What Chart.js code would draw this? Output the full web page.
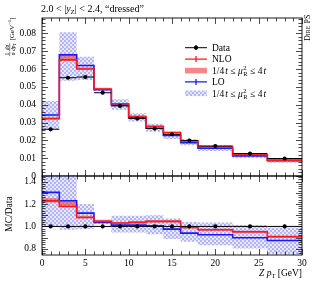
<!DOCTYPE html>
<html>
<head>
<meta charset="utf-8">
<script src="https://cdn.jsdelivr.net/npm/chart.js@4.4.1/dist/chart.umd.min.js"></script>
<style>
    body { margin: 0; background: #fff; }
    #wrap { position: relative; width: 313px; height: 281px; }
    canvas { position: absolute; left: 0; top: 0; }
</style>
</head>
<body>
<div id="wrap">
    <canvas id="main" width="313" height="281"></canvas>
    <canvas id="ratio" width="313" height="281"></canvas>
</div>
<script>
// Bin edges in Z pT [GeV]
const binEdges = [0, 2, 4, 6, 8, 10, 12, 14, 16, 18, 22, 26, 30];

// Top panel: 1/sigma dsigma/dpT
const dataVals = [0.0262, 0.0551, 0.0555, 0.0467, 0.0393, 0.0322, 0.0266, 0.0234, 0.0199, 0.0168, 0.0126, 0.0098];
const nloVals  = [0.0322, 0.0651, 0.0600, 0.0488, 0.0405, 0.0334, 0.0278, 0.0244, 0.0197, 0.0163, 0.0120, 0.0089];
const nloLow   = [0.0318, 0.0647, 0.0596, 0.0482, 0.0401, 0.0330, 0.0275, 0.0241, 0.0195, 0.0161, 0.0118, 0.0088];
const nloHigh  = [0.0328, 0.0675, 0.0608, 0.0495, 0.0409, 0.0338, 0.0281, 0.0247, 0.0200, 0.0165, 0.0122, 0.0090];
const loVals   = [0.0342, 0.0679, 0.0620, 0.0484, 0.0398, 0.0326, 0.0268, 0.0228, 0.0187, 0.0156, 0.0113, 0.0086];
const loLow    = [0.0262, 0.0534, 0.0538, 0.0477, 0.0372, 0.0305, 0.0248, 0.0208, 0.0172, 0.0140, 0.0101, 0.0074];
const loHigh   = [0.0421, 0.0806, 0.0669, 0.0491, 0.0430, 0.0352, 0.0293, 0.0250, 0.0207, 0.0173, 0.0128, 0.0097];

// Bottom panel: MC / Data
const nloRatio     = [1.228, 1.178, 1.080, 1.045, 1.030, 1.036, 1.045, 1.045, 0.990, 0.970, 0.952, 0.908];
const nloRatioLow  = [1.214, 1.174, 1.074, 1.032, 1.021, 1.027, 1.036, 1.036, 0.981, 0.961, 0.942, 0.898];
const nloRatioHigh = [1.252, 1.224, 1.096, 1.060, 1.040, 1.046, 1.055, 1.055, 1.000, 0.980, 0.962, 0.918];
const loRatio      = [1.304, 1.229, 1.119, 1.036, 1.012, 1.012, 1.006, 0.976, 0.940, 0.926, 0.899, 0.875];
const loRatioLow   = [1.000, 0.970, 0.976, 1.022, 0.946, 0.946, 0.930, 0.887, 0.863, 0.833, 0.804, 0.753];
const loRatioHigh  = [1.610, 1.460, 1.200, 1.050, 1.095, 1.095, 1.100, 1.070, 1.040, 1.036, 1.012, 0.991];

const SERIF = '"Liberation Serif", "DejaVu Serif", serif';
const RED = '#ff1a1a';
const BLUE = '#1a1aff';
const RED_FILL = 'rgba(240, 70, 70, 0.65)';

// hatched pattern for the LO band
function makeHatch() {
    const c = document.createElement('canvas');
    c.width = 4; c.height = 4;
    const g = c.getContext('2d');
    g.fillStyle = 'rgba(205, 205, 255, 0.45)';
    g.fillRect(0, 0, 4, 4);
    g.fillStyle = 'rgba(125, 125, 250, 0.5)';
    g.fillRect(0, 0, 2, 2);
    g.fillRect(2, 2, 2, 2);
    return document.getElementById('main').getContext('2d').createPattern(c, 'repeat');
}
const hatch = makeHatch();

// step points: value held from each low edge, last value repeated at the end
function steps(vals) {
    const pts = vals.map((v, i) => ({ x: binEdges[i], y: v }));
    pts.push({ x: binEdges[binEdges.length - 1], y: vals[vals.length - 1] });
    return pts;
}

// horizontal bars across each bin (data x-errors)
function binBars(vals) {
    const pts = [];
    vals.forEach((v, i) => {
        pts.push({ x: binEdges[i], y: v }, { x: binEdges[i + 1], y: v }, { x: binEdges[i + 1], y: null });
    });
    return pts;
}

function centers(vals) {
    return vals.map((v, i) => ({ x: (binEdges[i] + binEdges[i + 1]) / 2, y: v }));
}

function stepLine(label, vals, color, order) {
    return { label, data: steps(vals), stepped: 'before', borderColor: color, borderWidth: 1.6,
             pointRadius: 0, fill: false, order };
}

function band(vals, order) {
    return { data: steps(vals), stepped: 'before', borderColor: 'transparent', borderWidth: 0,
             pointRadius: 0, fill: false, order };
}

function bandLow(vals, color, order) {
    return { data: steps(vals), stepped: 'before', borderColor: 'transparent', borderWidth: 0,
             pointRadius: 0, fill: '-1', backgroundColor: color, order };
}

function dataSets(vals) {
    return [
        { data: binBars(vals), borderColor: '#000', borderWidth: 1, pointRadius: 0, spanGaps: false, order: 0 },
        { type: 'scatter', data: centers(vals), pointRadius: 2.1, pointBackgroundColor: '#000',
          pointBorderWidth: 0, showLine: false, order: 0 }
    ];
}

// ticks drawn inside the frame on all four sides
const frameTicks = {
    id: 'frameTicks',
    afterDatasetsDraw(chart, args, opts) {
        const { ctx, chartArea: a, scales: { x, y } } = chart;
        ctx.save();
        ctx.strokeStyle = '#000';
        ctx.lineWidth = 0.7;
        ctx.beginPath();
        for (let v = 0; v <= 30.001; v += 1) {
            const px = Math.round(x.getPixelForValue(v)) + 0.5;
            const len = Math.abs(v % 5) < 0.001 ? 6 : 3.5;
            ctx.moveTo(px, a.top); ctx.lineTo(px, a.top + len);
            ctx.moveTo(px, a.bottom); ctx.lineTo(px, a.bottom - len);
        }
        const start = Math.ceil(y.min / opts.yMinor - 1e-6);
        for (let k = start; k * opts.yMinor <= y.max + 1e-9; k++) {
            const v = k * opts.yMinor;
            const py = Math.round(y.getPixelForValue(v)) + 0.5;
            const major = Math.abs(v / opts.yMajor - Math.round(v / opts.yMajor)) < 1e-6;
            const len = major ? 6 : 3.5;
            ctx.moveTo(a.left, py); ctx.lineTo(a.left + len, py);
            ctx.moveTo(a.right, py); ctx.lineTo(a.right - len, py);
        }
        ctx.stroke();
        ctx.lineWidth = 0.9;
        ctx.strokeRect(a.left, a.top, a.right - a.left, a.bottom - a.top);
        ctx.restore();
    }
};

// draw a run of text pieces left to right
function rich(ctx, x, y, parts) {
    let cx = x;
    parts.forEach(p => {
        ctx.font = p.font;
        ctx.fillText(p.t, cx, y + (p.dy || 0));
        cx += ctx.measureText(p.t).width + (p.gap || 0);
    });
    return cx - x;
}

function richWidth(ctx, parts) {
    let w = 0;
    parts.forEach(p => { ctx.font = p.font; w += ctx.measureText(p.t).width + (p.gap || 0); });
    return w;
}

const f = (s, st) => (st || '') + ' ' + s + 'px ' + SERIF;

function muParts() {
    return [
        { t: '1/4', font: f(9.5), gap: 1 }, { t: 't', font: f(9.5, 'italic'), gap: 2.5 },
        { t: '\u2264', font: f(9.5), gap: 2.5 },
        { t: '\u03bc', font: f(9.5, 'italic'), gap: 0.5 }, { t: '2', font: f(6.5), dy: -4, gap: -3.3 },
        { t: 'R', font: f(6.5), dy: 2.5, gap: 2.5 }, { t: '\u2264', font: f(9.5), gap: 2.5 },
        { t: '4', font: f(9.5), gap: 1 }, { t: 't', font: f(9.5, 'italic') }
    ];
}

const decorations = {
    id: 'decorations',
    afterDraw(chart) {
        const ctx = chart.ctx;
        ctx.save();
        ctx.fillStyle = '#000';
        ctx.textBaseline = 'alphabetic';
        // title
        rich(ctx, 41, 12, [
            { t: '2.0 < |', font: f(10) }, { t: 'y', font: f(10, 'italic') },
            { t: 'Z', font: f(7), dy: 2 }, { t: '| < 2.4, \u201cdressed\u201d', font: f(10) }
        ]);

        // y axis label (rotated)
        ctx.save();
        ctx.translate(11, 56);
        ctx.rotate(-Math.PI / 2);
        ctx.font = f(5.5);
        ctx.textAlign = 'center';
        ctx.fillText('1', 2, -2.2);
        ctx.font = f(5.5, 'italic');
        ctx.fillText('\u03c3', 2, 4);
        ctx.fillText('d\u03c3', 8.5, -2.2);
        ctx.fillText('dp', 7.8, 4);
        ctx.font = f(4);
        ctx.fillText('T', 11.6, 5.2);
        ctx.fillRect(-0.2, -1.4, 4.4, 0.5);
        ctx.fillRect(4.8, -1.4, 8, 0.5);
        ctx.textAlign = 'left';
        rich(ctx, 15.5, 2.5, [
            { t: '[GeV', font: f(7) }, { t: '\u22121', font: f(5), dy: -3 }, { t: ']', font: f(7) }
        ]);
        ctx.restore();

        // generator label, rotated at the right edge
        ctx.save();
        ctx.translate(310, 41);
        ctx.rotate(-Math.PI / 2);
        rich(ctx, 0, 0, [{ t: 'D', font: f(8) }, { t: 'IRE', font: f(6) }, { t: ' PS', font: f(8) }]);
        ctx.restore();

        // legend
        const rows = [47.7, 59.1, 70.6, 81.9, 93.3];
        const x0 = 185, x1 = 207, xt = 212;
        ctx.lineWidth = 1;
        ctx.strokeStyle = '#000';
        ctx.beginPath(); ctx.moveTo(x0, rows[0]); ctx.lineTo(x1, rows[0]);
        ctx.moveTo(196, rows[0] - 2.5); ctx.lineTo(196, rows[0] + 2.5); ctx.stroke();
        ctx.beginPath(); ctx.arc(196, rows[0], 2.1, 0, Math.PI * 2); ctx.fill();
        ctx.lineWidth = 1.3;
        ctx.strokeStyle = RED;
        ctx.beginPath(); ctx.moveTo(x0, rows[1]); ctx.lineTo(x1, rows[1]);
        ctx.moveTo(196, rows[1] - 3); ctx.lineTo(196, rows[1] + 3); ctx.stroke();
        ctx.fillStyle = RED_FILL;
        ctx.fillRect(x0, rows[2] - 2.8, x1 - x0, 5.6);
        ctx.strokeStyle = BLUE;
        ctx.beginPath(); ctx.moveTo(x0, rows[3]); ctx.lineTo(x1, rows[3]);
        ctx.moveTo(196, rows[3] - 3); ctx.lineTo(196, rows[3] + 3); ctx.stroke();
        ctx.fillStyle = hatch;
        ctx.fillRect(x0, rows[4] - 2.8, x1 - x0, 5.6);
        ctx.fillStyle = '#000';
        const lift = 3.2;
        rich(ctx, xt, rows[0] + lift, [{ t: 'Data', font: f(9.5) }]);
        rich(ctx, xt, rows[1] + lift, [{ t: 'NLO', font: f(9.5) }]);
        rich(ctx, xt, rows[2] + lift, muParts());
        rich(ctx, xt, rows[3] + lift, [{ t: 'LO', font: f(9.5) }]);
        rich(ctx, xt, rows[4] + lift, muParts());
        ctx.restore();
    }
};

const ratioLabels = {
    id: 'ratioLabels',
    afterDraw(chart) {
        const ctx = chart.ctx;
        ctx.save();
        ctx.fillStyle = '#000';
        // y label
        ctx.translate(12, 214);
        ctx.rotate(-Math.PI / 2);
        ctx.font = f(9.5);
        ctx.textAlign = 'center';
        ctx.fillText('MC/Data', 0, 0);
        ctx.restore();
        // x label, right aligned to the frame
        ctx.save();
        ctx.fillStyle = '#000';
        const parts = [
            { t: 'Z ', font: f(9.5, 'italic') }, { t: 'p', font: f(9.5, 'italic') },
            { t: 'T', font: f(6.5), dy: 2 }, { t: ' [GeV]', font: f(9.5) }
        ];
        const w = richWidth(ctx, parts);
        rich(ctx, chart.chartArea.right - w, 276, parts);
        ctx.restore();
    }
};

function yAxis(min, max, step, digits, width) {
    return {
        type: 'linear', min, max,
        afterFit: s => { s.width = width; },
        grid: { display: false, drawTicks: false },
        border: { display: false },
        ticks: {
            stepSize: step, includeBounds: false, padding: 6, color: '#000',
            font: { family: SERIF, size: 9.5 },
            callback: v => (Math.abs(v) < 1e-9 && digits === 2) ? '0' : v.toFixed(digits)
        }
    };
}

Chart.defaults.font.family = SERIF;

new Chart(document.getElementById('main'), {
    type: 'line',
    data: {
        datasets: [
            ...dataSets(dataVals),
            stepLine('NLO', nloVals, RED, 1),
            stepLine('LO', loVals, BLUE, 2),
            band(nloHigh, 3),
            bandLow(nloLow, RED_FILL, 3),
            band(loHigh, 4),
            bandLow(loLow, hatch, 4)
        ]
    },
    options: {
        responsive: false,
        animation: false,
        layout: { padding: { left: 0, top: 18, right: 11, bottom: 105 } },
        plugins: { legend: { display: false }, tooltip: { enabled: false },
                   frameTicks: { yMajor: 0.01, yMinor: 0.002 } },
        scales: {
            x: { type: 'linear', min: 0, max: 30, display: false },
            y: yAxis(0, 0.0886, 0.01, 2, 42)
        }
    },
    plugins: [frameTicks, decorations]
});

new Chart(document.getElementById('ratio'), {
    type: 'line',
    data: {
        datasets: [
            ...dataSets(dataVals.map(v => v / v)),
            stepLine('NLO', nloRatio, RED, 1),
            stepLine('LO', loRatio, BLUE, 2),
            band(nloRatioHigh, 3),
            bandLow(nloRatioLow, RED_FILL, 3),
            band(loRatioHigh, 4),
            bandLow(loRatioLow, hatch, 4)
        ]
    },
    options: {
        responsive: false,
        animation: false,
        layout: { padding: { left: 0, top: 176, right: 11, bottom: 0 } },
        plugins: { legend: { display: false }, tooltip: { enabled: false },
                   frameTicks: { yMajor: 0.1, yMinor: 0.02 } },
        scales: {
            x: {
                type: 'linear', min: 0, max: 30,
                afterFit: s => { s.height = 26; },
                grid: { display: false, drawTicks: false },
                border: { display: false },
                ticks: { stepSize: 5, padding: 3, color: '#000', maxRotation: 0,
                         font: { family: SERIF, size: 9.5 } }
            },
            y: yAxis(0.745, 1.45, 0.1, 1, 42)
        }
    },
    plugins: [frameTicks, ratioLabels]
});
</script>
</body>
</html>
